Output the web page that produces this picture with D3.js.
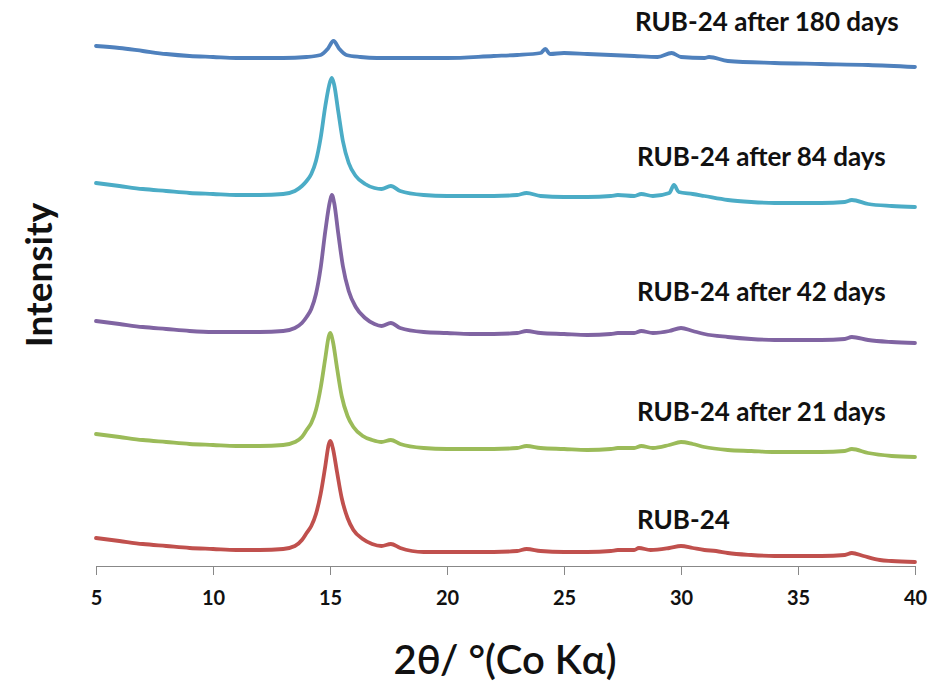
<!DOCTYPE html>
<html><head><meta charset="utf-8">
<script src="https://cdn.jsdelivr.net/npm/d3@7"></script>
<style>body{margin:0;background:#fff}svg{display:block}</style>
</head><body>
<svg id="c" width="940" height="685"></svg>
<script>
const seriesNames = ["RUB-24", "RUB-24 after 21 days", "RUB-24 after 42 days", "RUB-24 after 84 days", "RUB-24 after 180 days"];
const seriesColors = ["#c0504d", "#9bbb59", "#8064a2", "#4bacc6", "#4f81bd"];
const xTicks = [5, 10, 15, 20, 25, 30, 35, 40];

const rub24 = [[5,28],[6,25],[7,22],[8,20],[9,18],[10,17],[11,16],[12,16],[13,17],[13.5,20],[13.8,26],[14,33],[14.2,40],[14.4,52],[14.6,72],[14.8,100],[14.95,122],[15.02,125],[15.12,118],[15.3,94],[15.5,68],[15.75,48],[16,36],[16.4,27],[16.8,22],[17.2,20],[17.6,22],[18,18],[18.5,15],[19,14],[20,14],[21,14],[22,14],[23,15],[23.4,17],[24,15],[25,14],[26,14],[27,15],[27.3,16],[28,16],[28.2,18],[28.7,16],[29.5,18],[30,20],[30.5,18],[31,16],[31.5,15],[32,13],[33,11],[34,10],[35,10],[36,10],[37,11],[37.3,13],[37.8,10],[38.5,6],[39,5],[40,4]];
const d21 = [[5,132],[6,129],[7,126],[8,124],[9,122],[10,121],[11,120],[12,120],[13,121],[13.5,124],[13.8,129],[14,136],[14.2,143],[14.4,156],[14.6,178],[14.8,208],[14.95,230],[15.02,233],[15.12,225],[15.3,198],[15.5,170],[15.75,150],[16,139],[16.4,130],[16.8,126],[17.2,124],[17.6,126],[18,122],[19,118],[20,117],[21,117],[22,117],[23,118],[23.4,120],[24,118],[25,117],[26,116],[27,117],[27.3,118],[28,118],[28.3,120],[28.8,118],[29.5,121],[30,124],[30.5,122],[31,119],[32,116],[33,115],[34,114],[35,114],[36,114],[37,115],[37.3,117],[38,113],[39,110],[40,109]];
const d42 = [[5,245],[6,242],[7,239],[8,237],[9,235],[10,234],[11,234],[12,234],[13,235],[13.5,238],[13.8,243],[14,249],[14.2,257],[14.4,272],[14.6,298],[14.8,335],[15,365],[15.08,371],[15.18,363],[15.35,333],[15.55,300],[15.8,275],[16.1,259],[16.5,248],[16.9,242],[17.2,240],[17.6,243],[18,238],[19,234],[20,233],[21,232],[22,232],[23,233],[23.4,235],[24,233],[25,232],[26,231],[27,232],[27.3,233],[28,233],[28.3,235],[28.8,233],[29.5,235],[30,238],[30.5,235],[31,232],[32,229],[33,227],[34,226],[35,226],[36,226],[37,227],[37.3,229],[38,226],[39,224],[40,223]];
const d84 = [[5,383],[6,380],[7,377],[8,375],[9,373],[10,372],[11,371],[12,371],[13,372],[13.5,375],[13.8,380],[14,385],[14.2,392],[14.4,405],[14.6,428],[14.8,460],[15,484],[15.08,488],[15.18,481],[15.35,455],[15.55,425],[15.8,403],[16.1,390],[16.5,382],[16.9,378],[17.2,377],[17.6,380],[18,375],[19,371],[20,370],[21,370],[22,370],[23,371],[23.4,373],[24,370],[25,369],[26,369],[27,370],[27.3,371],[28,370],[28.3,372],[28.8,370],[29.5,373],[29.7,381],[29.9,374],[30.5,372],[31,370],[32,366],[33,364],[34,363],[35,363],[36,363],[37,364],[37.3,366],[38,362],[39,360],[40,359]];
const d180 = [[5,520],[6,518],[7,515],[8,512],[9,510],[10,509],[11,508],[12,508],[13,508],[14,509],[14.6,511],[14.9,517],[15.15,525],[15.4,517],[15.7,511],[16.3,509],[17,508],[18,508],[20,508],[22,510],[23,511],[24,513],[24.2,517],[24.4,512],[25,513],[26,512],[27,511],[28,510],[29,509],[29.6,513],[30,509],[31,508],[31.2,509],[32,505],[34,503],[36,502],[38,501],[40,499]];
const seriesData = [rub24, d21, d42, d84, d180];
const labelPos = [[637, 529], [637, 421], [637, 301], [637, 166], [635, 31]];

const svg = d3.select("#c");
const x = d3.scaleLinear().domain([5, 40]).range([96, 915]);
const y = d3.scaleLinear().domain([0, 550]).range([566, 16]);

const line = d3.line().x(d => x(d[0])).y(d => y(d[1])).curve(d3.curveMonotoneX);

seriesData.forEach((s, i) => {
  svg.append("path").datum(s).attr("d", line)
    .attr("fill", "none").attr("stroke", seriesColors[i])
    .attr("stroke-width", 3.8).attr("stroke-linejoin", "round").attr("stroke-linecap", "round");
  svg.append("text").attr("x", labelPos[i][0]).attr("y", labelPos[i][1])
    .attr("font-family", "Lato, sans-serif").attr("font-weight", "bold")
    .attr("font-size", 26).attr("fill", "#111").text(seriesNames[i]);
});

const ax = svg.append("g").attr("transform", "translate(0,566)")
  .call(d3.axisBottom(x).tickValues(xTicks).tickSize(9).tickSizeOuter(0).tickPadding(16));
ax.select(".domain").attr("stroke", "#888").attr("stroke-width", 1);
ax.selectAll(".tick line").attr("stroke", "#888");
ax.selectAll(".tick text").attr("font-family", "Lato, sans-serif").attr("font-weight", "bold")
  .attr("font-size", 20).attr("fill", "#111");

svg.append("text").attr("x", 505).attr("y", 674).attr("text-anchor", "middle")
  .attr("font-family", "Lato, sans-serif").attr("font-weight", 600).attr("font-size", 40).attr("fill", "#111")
  .text("2θ/ °(Co Kα)");
svg.append("text").attr("transform", "translate(52,275) rotate(-90)").attr("text-anchor", "middle")
  .attr("font-family", "Lato, sans-serif").attr("font-weight", "bold").attr("font-size", 37).attr("fill", "#111")
  .text("Intensity");
</script>
</body></html>
